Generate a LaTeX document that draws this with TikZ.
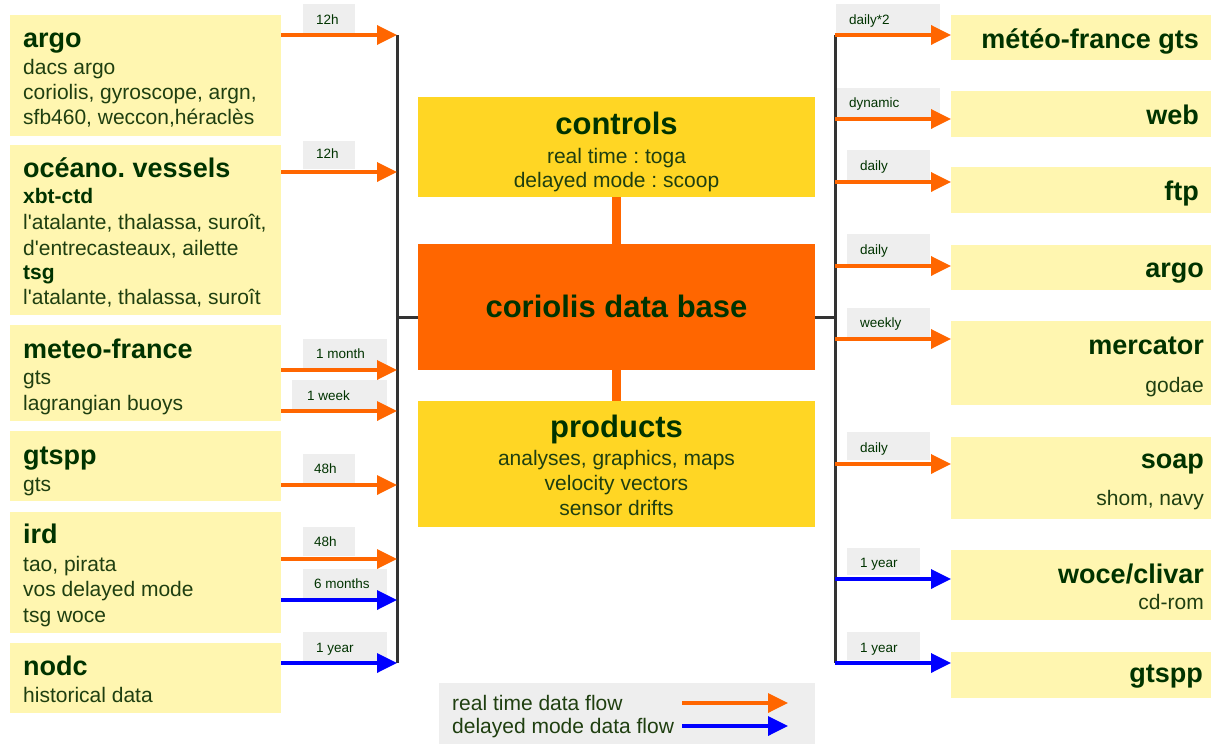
\documentclass[tikz,border=0pt]{standalone}
\usepackage{fontspec}
\setmainfont{Liberation Sans}
\usetikzlibrary{arrows.meta}
\frenchspacing
\definecolor{ylight}{HTML}{FFF6B0}
\definecolor{ycenter}{HTML}{FFD624}
\definecolor{orng}{HTML}{FF6600}
\definecolor{blu}{HTML}{0000FF}
\definecolor{taggray}{HTML}{EEEEEE}
\definecolor{tgreen}{HTML}{003300}
\definecolor{sgreen}{HTML}{1F3F10}
\definecolor{barc}{HTML}{333333}
\newcommand{\sq}{\textquotesingle}
\begin{document}
\begin{tikzpicture}[x=1pt,y=-1pt,
  box/.style={rectangle, inner sep=0pt, outer sep=0pt, anchor=north west, draw=none},
  lbox/.style={box, fill=ylight},
  cbox/.style={box, fill=ycenter, minimum width=397pt, minimum height=126pt},
  tagbox/.style={box, fill=taggray},
  ttl/.style={anchor=base west, inner sep=0pt, font=\fontsize{27}{30}\selectfont\bfseries, text=tgreen},
  subb/.style={anchor=base west, inner sep=0pt, font=\fontsize{21}{24}\selectfont\bfseries, text=tgreen},
  sub/.style={anchor=base west, inner sep=0pt, font=\fontsize{21}{24}\selectfont, text=sgreen},
  rttl/.style={ttl, anchor=base east},
  rsub/.style={sub, anchor=base east},
  cttl/.style={anchor=base, inner sep=0pt, font=\fontsize{31}{34}\selectfont\bfseries, text=tgreen},
  csub/.style={anchor=base, inner sep=0pt, font=\fontsize{21}{24}\selectfont, text=sgreen},
  tagtxt/.style={anchor=base west, inner sep=0pt, font=\fontsize{13.5}{15}\selectfont, text=tgreen},
  rt/.style={draw=orng, line width=3.5pt, -{Triangle[length=20pt,width=19pt]}},
  dm/.style={draw=blu, line width=3.5pt, -{Triangle[length=20pt,width=19pt]}},
  bar/.style={draw=barc, line width=3pt}
]
\useasboundingbox (0,0) rectangle (1211,744);

% ---------- left boxes ----------
\node[lbox, minimum width=271pt, minimum height=121pt] (argo) at (10,15) {};
\node[lbox, minimum width=271pt, minimum height=170pt] (ocean) at (10,145) {};
\node[lbox, minimum width=271pt, minimum height=96pt] (mf) at (10,325) {};
\node[lbox, minimum width=271pt, minimum height=70pt] (gtspp) at (10,431) {};
\node[lbox, minimum width=271pt, minimum height=121pt] (ird) at (10,512) {};
\node[lbox, minimum width=271pt, minimum height=70pt] (nodc) at (10,643) {};

\node[ttl] (argoT) at (23,47) {argo};
\node[sub] (argo1) at (23,74) {dacs argo};
\node[sub] (argo2) at (23,99) {coriolis, gyroscope, argn,};
\node[sub] (argo3) at (23,124) {sfb460, weccon,héraclès};

\node[ttl] (oceanT) at (23,177) {océano. vessels};
\node[subb] (ocean1) at (23,203) {xbt-ctd};
\node[sub] (ocean2) at (23,229) {l\sq atalante, thalassa, suroît,};
\node[sub] (ocean3) at (23,255) {d\sq entrecasteaux, ailette};
\node[subb] (ocean4) at (23,279) {tsg};
\node[sub] (ocean5) at (23,304) {l\sq atalante, thalassa, suroît};

\node[ttl] (mfT) at (23,358) {meteo-france};
\node[sub] (mf1) at (23,384) {gts};
\node[sub] (mf2) at (23,410) {lagrangian buoys};

\node[ttl] (gtsppT) at (23,464) {gtspp};
\node[sub] (gtspp1) at (23,491) {gts};

\node[ttl] (irdT) at (23,543) {ird};
\node[sub] (ird1) at (23,571) {tao, pirata};
\node[sub] (ird2) at (23,596) {vos delayed mode};
\node[sub] (ird3) at (23,622) {tsg woce};

\node[ttl] (nodcT) at (23,675) {nodc};
\node[sub] (nodc1) at (23,702) {historical data};

% ---------- center boxes ----------
\node[cbox, minimum height=100pt] (ctrl) at (418,97) {};
\node[cbox, fill=orng] (cdb) at (418,244) {};
\node[cbox] (prod) at (418,401) {};
\draw[orng, line width=9pt] (ctrl.south) -- (cdb.north);
\draw[orng, line width=9pt] (cdb.south) -- (prod.north);

\node[cttl] (ctrlT) at (616.5,134) {controls};
\node[csub] (ctrl1) at (616.5,163) {real time : toga};
\node[csub] (ctrl2) at (616.5,187) {delayed mode : scoop};
\node[cttl] (cdbT) at (616.5,317) {coriolis data base};
\node[cttl] (prodT) at (616.5,437) {products};
\node[csub] (prod1) at (616.5,465) {analyses, graphics, maps};
\node[csub] (prod2) at (616.5,490) {velocity vectors};
\node[csub] (prod3) at (616.5,515) {sensor drifts};

% ---------- right boxes ----------
\node[lbox, minimum width=260pt, minimum height=45pt] (mfg) at (951,15) {};
\node[lbox, minimum width=260pt, minimum height=46pt] (web) at (951,91) {};
\node[lbox, minimum width=260pt, minimum height=46pt] (ftp) at (951,167) {};
\node[lbox, minimum width=260pt, minimum height=45pt] (rargo) at (951,245) {};
\node[lbox, minimum width=260pt, minimum height=84pt] (merc) at (951,321) {};
\node[lbox, minimum width=260pt, minimum height=82pt] (soap) at (951,437) {};
\node[lbox, minimum width=260pt, minimum height=70pt] (woce) at (951,550) {};
\node[lbox, minimum width=260pt, minimum height=46pt] (rgtspp) at (951,652) {};

\node[rttl] (mfgT) at (1199,48) {météo-france gts};
\node[rttl] (webT) at (1199,124) {web};
\node[rttl] (ftpT) at (1199,200) {ftp};
\node[rttl] (rargoT) at (1204,277) {argo};
\node[rttl] (mercT) at (1204,354) {mercator};
\node[rsub] (merc1) at (1204,392) {godae};
\node[rttl] (soapT) at (1204,468) {soap};
\node[rsub] (soap1) at (1204,505) {shom, navy};
\node[rttl] (woceT) at (1204,583) {woce/clivar};
\node[rsub] (woce1) at (1204,609) {cd-rom};
\node[rttl] (rgtsppT) at (1203,682) {gtspp};

% ---------- tags left ----------
\node[tagbox, minimum width=52pt, minimum height=29pt] (tl1) at (303,4) {};
\node[tagtxt] (tl1t) at (316,24) {12h};
\node[tagbox, minimum width=52pt, minimum height=28pt] (tl2) at (303,141) {};
\node[tagtxt] (tl2t) at (316,158) {12h};
\node[tagbox, minimum width=84pt, minimum height=30pt] (tl3) at (303,339) {};
\node[tagtxt] (tl3t) at (316,358) {1 month};
\node[tagbox, minimum width=95pt, minimum height=29pt] (tl4) at (292,380) {};
\node[tagtxt] (tl4t) at (307,400) {1 week};
\node[tagbox, minimum width=52pt, minimum height=29pt] (tl5) at (303,454) {};
\node[tagtxt] (tl5t) at (314,473) {48h};
\node[tagbox, minimum width=52pt, minimum height=29pt] (tl6) at (303,527) {};
\node[tagtxt] (tl6t) at (314,546) {48h};
\node[tagbox, minimum width=84pt, minimum height=29pt] (tl7) at (303,569) {};
\node[tagtxt] (tl7t) at (314,588) {6 months};
\node[tagbox, minimum width=84pt, minimum height=29pt] (tl8) at (303,632) {};
\node[tagtxt] (tl8t) at (316,652) {1 year};

% ---------- tags right ----------
\node[tagbox, minimum width=104pt, minimum height=29pt] (tr1) at (836,4) {};
\node[tagtxt] (tr1t) at (849,24) {daily*2};
\node[tagbox, minimum width=103pt, minimum height=29pt] (tr2) at (837,88) {};
\node[tagtxt] (tr2t) at (849,107) {dynamic};
\node[tagbox, minimum width=83pt, minimum height=30pt] (tr3) at (847,150) {};
\node[tagtxt] (tr3t) at (860,170) {daily};
\node[tagbox, minimum width=83pt, minimum height=30pt] (tr4) at (847,234) {};
\node[tagtxt] (tr4t) at (860,254) {daily};
\node[tagbox, minimum width=83pt, minimum height=29pt] (tr5) at (847,308) {};
\node[tagtxt] (tr5t) at (860,327) {weekly};
\node[tagbox, minimum width=83pt, minimum height=28pt] (tr6) at (847,432) {};
\node[tagtxt] (tr6t) at (860,452) {daily};
\node[tagbox, minimum width=73pt, minimum height=27pt] (tr7) at (847,548) {};
\node[tagtxt] (tr7t) at (860,567) {1 year};
\node[tagbox, minimum width=73pt, minimum height=28pt] (tr8) at (847,632) {};
\node[tagtxt] (tr8t) at (860,652) {1 year};

% ---------- bars ----------
\coordinate (LA1) at (397,35);
\coordinate (LA2) at (397,172);
\coordinate (LA3) at (397,370);
\coordinate (LA4) at (397,411);
\coordinate (LA5) at (397,485);
\coordinate (LA6) at (397,559);
\coordinate (LA7) at (397,600);
\coordinate (LA8) at (397,663);
\coordinate (Lmid) at (397,317);
\coordinate (RA1) at (835,35);
\coordinate (RA2) at (835,119);
\coordinate (RA3) at (835,182);
\coordinate (RA4) at (835,266);
\coordinate (RA5) at (835,339);
\coordinate (RA6) at (835,464);
\coordinate (RA7) at (835,579);
\coordinate (RA8) at (835,663);
\coordinate (Rmid) at (835,317);

\draw[bar] (LA1) -- (LA8);
\draw[bar] (RA1) -- (RA8);
\draw[bar] (Lmid) -- (Lmid -| cdb.west);
\draw[bar] (cdb.east |- Rmid) -- (Rmid);

% ---------- left arrows ----------
\draw[rt] (argo.east |- LA1) -- (LA1);
\draw[rt] (ocean.east |- LA2) -- (LA2);
\draw[rt] (mf.east |- LA3) -- (LA3);
\draw[rt] (mf.east |- LA4) -- (LA4);
\draw[rt] (gtspp.east |- LA5) -- (LA5);
\draw[rt] (ird.east |- LA6) -- (LA6);
\draw[dm] (ird.east |- LA7) -- (LA7);
\draw[dm] (nodc.east |- LA8) -- (LA8);

% ---------- right arrows ----------
\draw[rt] (RA1) -- (RA1 -| mfg.west);
\draw[rt] (RA2) -- (RA2 -| web.west);
\draw[rt] (RA3) -- (RA3 -| ftp.west);
\draw[rt] (RA4) -- (RA4 -| rargo.west);
\draw[rt] (RA5) -- (RA5 -| merc.west);
\draw[rt] (RA6) -- (RA6 -| soap.west);
\draw[dm] (RA7) -- (RA7 -| woce.west);
\draw[dm] (RA8) -- (RA8 -| rgtspp.west);

% ---------- legend ----------
\node[tagbox, minimum width=376pt, minimum height=61pt] (legend) at (439,683) {};
\node[sub] (leg1) at (452,710) {real time data flow};
\node[sub] (leg2) at (452,733) {delayed mode data flow};
\coordinate (lg1a) at (682,703);
\coordinate (lg1b) at (788,703);
\coordinate (lg2a) at (682,726);
\coordinate (lg2b) at (788,726);
\draw[rt] (lg1a) -- (lg1b);
\draw[dm] (lg2a) -- (lg2b);
\end{tikzpicture}
\end{document}
